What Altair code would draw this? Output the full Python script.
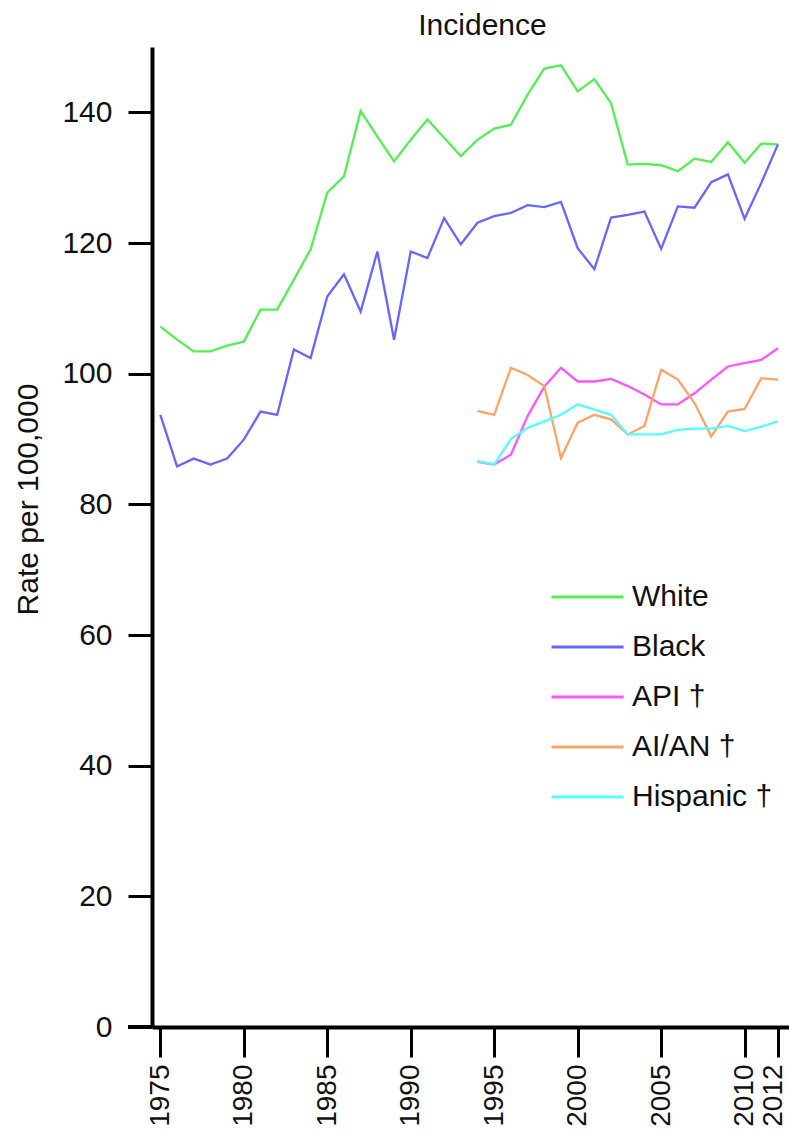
import altair as alt
import pandas as pd

# ---- data ----
years_all = list(range(1975, 2013))
years_late = list(range(1994, 2013))

white = [107.2, 105.2, 103.4, 103.4, 104.3, 104.9, 109.8, 109.8, 114.4, 119.0,
         127.7, 130.2, 140.2, 136.3, 132.5, 135.8, 138.9, 136.1, 133.3, 135.8,
         137.5, 138.1, 142.7, 146.7, 147.2, 143.2, 145.1, 141.4, 132.0, 132.1,
         131.9, 131.0, 132.9, 132.4, 135.4, 132.3, 135.2, 135.1]
black = [93.7, 85.8, 87.0, 86.1, 87.0, 89.9, 94.2, 93.7, 103.7, 102.4,
         111.8, 115.2, 109.5, 118.7, 105.2, 118.7, 117.7, 123.8, 119.8, 123.1,
         124.1, 124.6, 125.8, 125.5, 126.3, 119.2, 116.0, 123.9, 124.3, 124.8,
         119.1, 125.6, 125.4, 129.3, 130.5, 123.7, 129.2, 135.1]
api = [86.5, 86.1, 87.6, 93.5, 98.0, 100.9, 98.8, 98.8, 99.2, 98.1,
       96.8, 95.3, 95.3, 97.0, 99.1, 101.1, 101.6, 102.1, 103.9]
aian = [94.3, 93.7, 100.9, 99.8, 98.1, 87.1, 92.5, 93.7, 93.0, 90.7,
        92.0, 100.6, 99.1, 95.5, 90.4, 94.2, 94.6, 99.3, 99.1]
hispanic = [86.6, 86.1, 90.0, 91.7, 92.7, 93.7, 95.3, 94.5, 93.7, 90.7,
            90.7, 90.7, 91.4, 91.6, 91.6, 92.0, 91.2, 91.9, 92.7]

series_names = ["White", "Black", "API \u2020", "AI/AN \u2020", "Hispanic \u2020"]
series_colors = ["#55EE55", "#6666FF", "#FF55FF", "#FFA366", "#55FFFF"]
x_ticks = [1975, 1980, 1985, 1990, 1995, 2000, 2005, 2010, 2012]
y_ticks = [0, 20, 40, 60, 80, 100, 120, 140]

series_data = [
    (series_names[0], years_all, white),
    (series_names[1], years_all, black),
    (series_names[2], years_late, api),
    (series_names[3], years_late, aian),
    (series_names[4], years_late, hispanic),
]
rows = []
for name, yrs, vals in series_data:
    for yr, v in zip(yrs, vals):
        rows.append({"series": name, "year": yr, "rate": v})
df = pd.DataFrame(rows)

FONT = "Liberation Sans"
TEXT = "#111111"

lines = alt.Chart(df).mark_line(strokeWidth=2.3).encode(
    x=alt.X(
        "year:Q",
        scale=alt.Scale(domain=[1974.5, 2012.66], nice=False, zero=False),
        axis=alt.Axis(
            values=x_ticks, format="d", title=None, labelAngle=270,
            labelAlign="right", labelBaseline="middle",
            labelFontSize=28, labelPadding=7, tickSize=30, tickWidth=3,
            labelOffset={"condition": {"test": "datum.value === 2012", "value": -4}, "value": 0},
            labelOverlap=False, labelFlush=False, grid=False,
        ),
    ),
    y=alt.Y(
        "rate:Q",
        scale=alt.Scale(domain=[0, 150], nice=False),
        axis=alt.Axis(
            values=y_ticks, title="Rate per 100,000", titleFontSize=30,
            titleFontWeight="normal", titleAngle=270, titleX=-124, titleY=452,
            titleAlign="center", titleBaseline="middle",
            labelFontSize=30, labelPadding=16, tickSize=24, tickWidth=3,
            grid=False,
        ),
    ),
    color=alt.Color(
        "series:N",
        scale=alt.Scale(domain=series_names, range=series_colors),
        legend=alt.Legend(
            title=None, orient="none", legendX=398, legendY=535,
            symbolType="stroke", symbolSize=5184, symbolStrokeWidth=3,
            clipHeight=30,
            labelFontSize=30, labelFont=FONT, labelColor=TEXT,
            labelOffset=7, rowPadding=20, padding=0,
        ),
    ),
)

# short extension of the x axis line to the left of the y axis
ext = alt.Chart(df).mark_rule(color="black", strokeWidth=4).encode(
    x=alt.value(-24), x2=alt.value(0), y=alt.value(980)
)

chart = alt.layer(lines, ext).properties(
    width=637,
    height=980,
    title=alt.TitleParams(
        "Incidence", fontSize=30, font=FONT, fontWeight="normal",
        anchor="middle", frame="group", dx=12, dy=27, offset=9,
        baseline="alphabetic", color=TEXT,
    ),
    autosize=alt.AutoSizeParams(type="none"),
    padding={"left": 152, "top": 47, "right": 0, "bottom": 115},
).configure(
    font=FONT,
).configure_axis(
    domainColor="black", domainWidth=4, tickColor="black",
    labelColor=TEXT, titleColor=TEXT, labelFont=FONT, titleFont=FONT,
).configure_view(stroke=None)

chart.save("out.html", embed_options={"renderer": "svg", "actions": False})
